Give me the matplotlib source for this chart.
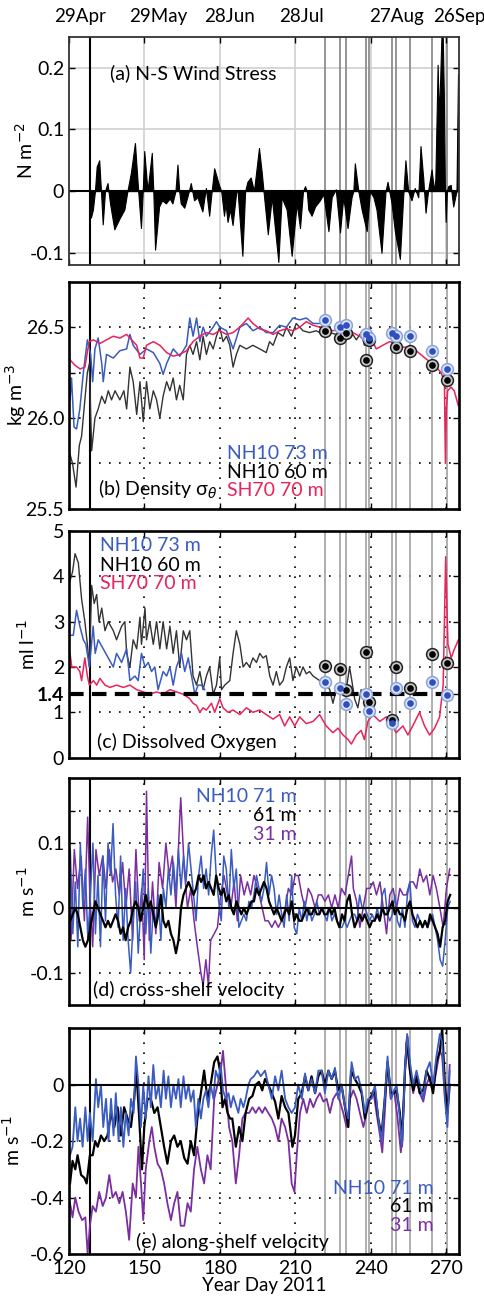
import numpy as np
import matplotlib
matplotlib.use('Agg')
import matplotlib.pyplot as plt
from matplotlib import transforms

plt.rcParams['font.family'] = ['Lato', 'DejaVu Sans']
plt.rcParams['mathtext.fontset'] = 'dejavusans'

BLUE = '#3a5bbf'
RED = '#e8245a'
PURPLE = '#7a2ea0'
GRAY = '#a8a8a8'
FS = 14

# ---- data ----
date_labels = ['29Apr', '29May', '28Jun', '28Jul', '27Aug', '26Sep']
date_pos = [124.4, 155.3, 183.9, 212.5, 250.2, 275.2]
xticks = [120, 150, 180, 210, 240, 270]
mooring_day = 128.3
cast_days = [221.6, 227.8, 230.2, 237.9, 239.2, 248.4, 249.8, 255.6, 264.2, 270.3]

wind = [(128.3, 0.0), (128.7, -0.043), (129.5, -0.03), (130.3, 0.0), (131.0, 0.04), (132.0, 0.05),
        (132.7, 0.0), (133.4, -0.054), (134.3, 0.0), (135.3, 0.013), (136.3, -0.02), (138.0, -0.062),
        (140.0, -0.045), (142.0, -0.03), (143.2, 0.0), (144.6, 0.03), (146.2, 0.078), (147.5, 0.0),
        (148.6, -0.06), (149.3, 0.0), (149.9, 0.065), (151.2, 0.0), (152.9, 0.062), (153.5, 0.0),
        (154.2, -0.095), (155.8, -0.025), (157.0, -0.015), (158.5, -0.02), (160.0, -0.012), (161.1, -0.02),
        (162.3, 0.0), (163.1, 0.043), (163.8, 0.0), (164.4, -0.02), (165.8, -0.027), (167.0, -0.01),
        (168.4, 0.013), (169.0, 0.0), (169.7, -0.015), (171.0, -0.01), (173.0, -0.033), (174.4, 0.005),
        (175.7, -0.04), (176.7, 0.0), (177.7, 0.037), (179.6, 0.01), (180.5, 0.0), (181.6, -0.04),
        (182.2, -0.02), (183.0, -0.05), (184.0, -0.03), (185.0, -0.055), (186.5, 0.0), (187.0, 0.0),
        (188.9, -0.105), (190.0, 0.0), (190.9, 0.015), (192.2, 0.022), (193.5, 0.0), (195.5, 0.07),
        (196.6, 0.03), (197.3, 0.0), (199.0, -0.07), (200.6, -0.01), (203.2, -0.115), (204.5, -0.01),
        (206.5, -0.03), (208.5, -0.105), (210.5, -0.02), (211.8, -0.06), (213.0, 0.0), (213.8, 0.008),
        (214.5, 0.0), (215.1, -0.03), (216.4, -0.04), (217.8, -0.025), (219.7, -0.015), (221.1, -0.005),
        (223.1, -0.065), (224.4, -0.01), (226.0, 0.003), (227.7, -0.067), (229.0, -0.01), (230.7, -0.06),
        (232.3, -0.01), (233.0, 0.0), (233.6, 0.045), (235.0, 0.0), (236.3, -0.03), (238.3, -0.065),
        (239.6, 0.0), (241.0, -0.01), (242.2, -0.03), (244.2, -0.1), (245.8, 0.0), (246.6, 0.015),
        (247.3, 0.0), (248.2, -0.02), (249.5, -0.065), (251.5, -0.11), (252.8, -0.01), (253.7, 0.05),
        (254.8, 0.0), (256.1, -0.015), (257.4, 0.005), (258.8, -0.01), (259.7, 0.073), (260.8, 0.02),
        (261.7, -0.035), (262.7, 0.0), (264.1, 0.035), (265.1, 0.0), (265.6, 0.02), (266.0, 0.1),
        (266.5, 0.205), (267.0, 0.12), (267.5, 0.18), (268.0, 0.25), (268.5, 0.26), (269.0, 0.15),
        (269.4, 0.0), (269.7, -0.05), (270.2, 0.0), (270.7, 0.008), (271.7, 0.01), (272.7, -0.025),
        (274.0, 0.0), (274.6, 0.19)]

rho_sh70 = [(120.4, 26.32), (122.4, 26.29), (124.4, 26.27), (126.3, 26.28), (128.0, 26.42), (129.7, 26.43),
            (132.3, 26.41), (134.9, 26.43), (137.6, 26.45), (140.2, 26.44), (142.9, 26.46), (144.9, 26.43),
            (146.9, 26.40), (148.2, 26.33), (149.5, 26.33), (150.8, 26.40), (153.5, 26.42), (156.1, 26.40),
            (158.8, 26.36), (161.4, 26.34), (164.0, 26.35), (166.7, 26.37), (169.3, 26.42), (172.0, 26.45),
            (174.6, 26.47), (177.3, 26.46), (179.9, 26.48), (182.6, 26.46), (185.2, 26.47), (187.9, 26.50),
            (191.2, 26.55), (193.1, 26.52), (195.8, 26.49), (198.4, 26.48), (201.1, 26.46), (203.7, 26.48),
            (206.4, 26.49), (209.0, 26.48), (211.7, 26.50), (214.3, 26.53), (217.0, 26.51), (219.6, 26.50),
            (222.2, 26.49), (224.9, 26.48), (227.5, 26.49), (230.2, 26.50), (232.8, 26.47), (235.5, 26.45),
            (238.1, 26.42), (240.8, 26.42), (242.1, 26.38), (244.7, 26.40), (247.4, 26.42), (250.0, 26.41),
            (252.7, 26.39), (255.3, 26.39), (258.0, 26.37), (260.6, 26.34), (263.3, 26.31), (265.9, 26.28),
            (267.9, 26.25), (269.2, 26.20), (269.6, 25.75), (270.0, 26.05), (270.5, 26.15), (271.8, 26.17),
            (273.1, 26.15), (274.7, 26.07)]

rho_nh73 = [(120.4, 26.10), (121.0, 26.22), (122.0, 25.95), (123.0, 25.94), (124.3, 26.05), (125.7, 26.25),
            (127.3, 26.43), (128.6, 26.35), (129.4, 26.20), (130.3, 26.38), (131.6, 26.44), (133.0, 26.30),
            (133.6, 26.20), (134.9, 26.35), (137.6, 26.33), (140.2, 26.37), (142.9, 26.38), (144.2, 26.46),
            (145.5, 26.40), (148.2, 26.35), (150.8, 26.38), (153.5, 26.36), (156.1, 26.30), (157.4, 26.24),
            (158.8, 26.30), (161.4, 26.38), (164.0, 26.34), (166.7, 26.40), (168.0, 26.55), (169.3, 26.45),
            (170.7, 26.55), (172.0, 26.42), (173.3, 26.50), (174.6, 26.45), (177.3, 26.50), (178.6, 26.53),
            (179.9, 26.50), (182.6, 26.48), (185.2, 26.38), (187.9, 26.50), (190.5, 26.52), (193.1, 26.48),
            (195.8, 26.50), (198.4, 26.47), (201.1, 26.47), (203.7, 26.51), (206.4, 26.50), (209.0, 26.55),
            (211.7, 26.54), (214.3, 26.55), (217.0, 26.52), (219.6, 26.52), (221.6, 26.53)]

rho_nh60 = [(120.4, 25.80), (121.4, 25.75), (122.8, 25.62), (124.1, 25.85), (125.0, 25.90), (126.3, 26.10),
            (127.3, 26.25), (128.1, 26.30), (129.0, 25.82), (130.3, 26.00), (131.6, 26.05), (133.0, 26.12),
            (134.3, 26.08), (135.6, 26.15), (136.9, 26.10), (138.3, 26.15), (140.2, 26.10), (141.8, 26.15),
            (142.9, 26.05), (144.2, 26.28), (145.5, 26.20), (146.9, 26.02), (148.2, 26.20), (149.5, 25.98),
            (150.8, 26.20), (152.1, 26.05), (153.5, 26.15), (154.8, 26.10), (156.1, 26.00), (157.4, 26.12),
            (158.8, 26.20), (160.1, 26.15), (161.4, 26.22), (162.7, 26.10), (164.0, 26.18), (165.4, 26.10),
            (166.7, 26.35), (168.0, 26.40), (169.3, 26.35), (170.7, 26.42), (172.0, 26.32), (173.3, 26.45),
            (174.6, 26.35), (175.9, 26.42), (177.3, 26.38), (178.6, 26.45), (179.9, 26.50), (181.2, 26.42),
            (182.6, 26.45), (183.9, 26.40), (185.2, 26.28), (186.5, 26.35), (187.9, 26.40), (190.5, 26.38),
            (193.1, 26.40), (195.8, 26.38), (198.4, 26.36), (199.7, 26.42), (201.1, 26.40), (203.0, 26.47),
            (205.1, 26.45), (206.4, 26.50), (208.4, 26.45), (210.3, 26.52), (213.0, 26.48), (215.6, 26.47),
            (218.3, 26.48), (220.9, 26.46), (223.5, 26.47), (226.2, 26.46), (228.9, 26.47), (231.5, 26.44),
            (232.8, 26.46), (234.2, 26.43), (236.1, 26.47), (237.4, 26.40), (239.4, 26.43)]

rho_cast_73 = [26.54, 26.50, 26.51, 26.46, 26.44, 26.47, 26.45, 26.45, 26.37, 26.27]
rho_cast_60 = [26.48, 26.44, 26.47, 26.32, 26.43, np.nan, 26.39, 26.37, 26.29, 26.21]

ox_nh60 = [(120.4, 3.9), (121.4, 4.1), (122.4, 4.5), (123.7, 4.3), (125.0, 3.5), (126.3, 3.0), (127.3, 2.5),
           (128.1, 2.0), (129.0, 3.8), (130.0, 3.4), (131.0, 3.6), (131.9, 3.0), (133.0, 3.3), (134.3, 2.8),
           (135.6, 3.0), (137.6, 2.8), (138.9, 2.6), (140.9, 2.9), (142.2, 3.0), (142.9, 2.3), (144.2, 2.0),
           (145.5, 2.6), (146.9, 2.4), (148.2, 3.1), (148.8, 2.5), (150.2, 3.3), (150.8, 2.6), (152.1, 3.0),
           (153.5, 2.5), (154.8, 3.0), (156.1, 2.4), (157.4, 3.0), (158.8, 2.4), (160.1, 2.9), (161.4, 2.3),
           (162.7, 2.8), (164.0, 2.0), (165.4, 2.8), (166.7, 2.6), (168.0, 2.8), (169.3, 1.8), (170.7, 1.6),
           (172.0, 1.9), (173.3, 1.5), (174.6, 1.8), (175.9, 2.0), (177.3, 1.4), (178.6, 1.6), (179.9, 2.2),
           (180.6, 1.5), (181.9, 1.6), (183.9, 1.7), (185.2, 2.3), (186.5, 2.8), (187.9, 2.5), (189.2, 2.0),
           (190.5, 2.1), (191.8, 2.0), (193.1, 2.2), (194.5, 2.1), (195.8, 2.3), (197.1, 2.2), (198.4, 2.25),
           (199.8, 1.8), (201.1, 1.6), (202.4, 1.9), (203.7, 1.6), (205.1, 1.7), (206.4, 2.0), (207.7, 2.2),
           (209.0, 1.7), (210.3, 2.0), (211.7, 1.8), (213.0, 2.0), (214.3, 1.85), (215.6, 1.9), (217.0, 1.8),
           (218.3, 1.75), (219.6, 1.7), (221.6, 1.7), (223.6, 1.5), (224.9, 1.2), (226.2, 1.5), (227.5, 1.6),
           (228.9, 1.45), (230.2, 1.5), (231.5, 2.0), (232.4, 1.7), (233.5, 1.3), (234.8, 1.1), (236.1, 1.5),
           (237.4, 1.35), (238.8, 1.4)]

ox_nh73 = [(120.4, 2.7), (121.7, 2.7), (123.0, 3.25), (124.3, 2.9), (125.7, 2.6), (126.7, 2.5), (128.1, 2.0),
           (129.6, 2.9), (130.4, 2.3), (131.6, 2.6), (133.6, 2.4), (135.6, 2.2), (137.6, 2.0), (138.9, 2.3),
           (140.9, 2.1), (142.9, 2.4), (144.2, 1.7), (146.2, 1.8), (147.5, 1.7), (148.8, 2.3), (150.2, 2.0),
           (151.5, 2.1), (152.8, 1.9), (154.1, 2.0), (155.4, 1.5), (157.4, 1.9), (158.8, 1.8), (160.1, 2.0),
           (161.4, 1.6), (162.7, 2.0), (164.7, 2.3), (166.0, 1.9), (167.4, 2.2), (168.7, 1.8), (170.0, 1.4),
           (171.3, 1.6), (172.6, 1.6), (173.9, 1.5)]

ox_sh70 = [(120.4, 2.3), (121.1, 2.0), (123.0, 2.0), (124.3, 1.9), (125.0, 1.7), (126.3, 2.2), (127.3, 1.8),
           (128.1, 1.6), (129.7, 1.7), (131.0, 1.6), (132.3, 1.75), (134.3, 1.6), (136.3, 1.55), (138.9, 1.6),
           (141.6, 1.55), (144.2, 1.6), (146.9, 1.5), (149.5, 1.45), (152.1, 1.4), (154.8, 1.45), (157.4, 1.4),
           (160.1, 1.5), (162.7, 1.45), (165.4, 1.4), (168.0, 1.3), (169.3, 1.2), (170.7, 1.15), (172.0, 1.0),
           (173.3, 1.1), (174.6, 1.05), (176.6, 1.2), (177.9, 1.0), (179.9, 1.3), (181.2, 1.1), (183.2, 1.0),
           (185.2, 1.05), (187.9, 0.95), (190.5, 1.1), (193.1, 1.0), (195.8, 1.05), (198.4, 0.95), (201.1, 0.85),
           (203.7, 0.95), (205.7, 0.7), (207.7, 0.9), (209.7, 0.7), (211.7, 0.9), (214.3, 0.75), (217.0, 0.8),
           (219.6, 0.95), (222.2, 0.7), (224.9, 0.55), (226.9, 0.65), (228.9, 0.5), (230.9, 0.4), (232.2, 0.3),
           (234.2, 0.5), (236.1, 0.6), (237.4, 0.4), (238.8, 0.8), (240.8, 0.95), (243.5, 0.8), (246.1, 0.9),
           (248.0, 0.75), (250.0, 0.55), (252.7, 0.7), (254.7, 0.5), (256.6, 0.7), (259.3, 1.0), (261.3, 0.7),
           (263.3, 0.5), (265.3, 0.65), (267.3, 0.9), (268.7, 1.6), (269.7, 4.4), (270.6, 2.5), (271.9, 2.2),
           (273.2, 2.4), (274.8, 2.6)]

ox_cast_73 = [1.66, 1.53, 1.18, 1.40, 1.04, 0.77, 1.54, 1.20, 1.66, 1.38]
ox_cast_60 = [2.02, 1.95, 1.49, 2.32, 1.22, 0.84, 1.99, 1.54, 2.29, 2.08]
ox_threshold = 1.4

# cross-shelf velocity, daily values from day 120.5
u_day = np.arange(120.5, 272, 1.0)
u_nh71 = [0.09, -0.04, 0.04, -0.06, 0.10, 0.00, 0.06, -0.05, 0.02, 0.10,
          -0.04, 0.05, -0.06, 0.08, -0.02, 0.10, 0.05, 0.13, 0.02, -0.03,
          0.08, -0.05, 0.03, -0.05, -0.10, -0.02, 0.04, -0.07, 0.00, 0.06,
          -0.04, 0.03, -0.07, 0.00, -0.03, 0.02, -0.05, 0.03, 0.00, 0.06,
          0.02, 0.07, 0.02, 0.09, 0.03, 0.08, 0.04, 0.10, 0.06, 0.02,
          -0.02, 0.05, 0.08, 0.03, 0.06, 0.02, 0.08, 0.12, 0.05, 0.01,
          -0.02, 0.08, 0.06, 0.00, 0.09, 0.03, 0.06, -0.03, -0.02, -0.01,
          -0.02, 0.01, 0.00, 0.02, 0.05, 0.03, 0.01,
          0.03, 0.07, 0.02, 0.05, 0.03, -0.01, 0.02, -0.01, -0.03, 0.02,
          -0.02, 0.05, -0.03, -0.04, 0.00, -0.02, 0.01, -0.02, 0.00, -0.02,
          -0.01, 0.01, -0.01, 0.00, -0.01, -0.02, 0.00, -0.02, -0.01, -0.02,
          -0.03, -0.03, -0.02, -0.03, -0.02, -0.01, -0.01, -0.02, 0.02, 0.00,
          0.00, -0.01, -0.02, -0.01, -0.02, 0.00, -0.02, 0.02, 0.03, -0.01,
          -0.02, -0.01, 0.02, -0.02, -0.03, 0.00, -0.03, 0.02, 0.04, -0.02,
          -0.03, -0.01, -0.02, -0.03, -0.02, -0.03, -0.02, -0.01, -0.03, -0.05,
          -0.08, -0.09, -0.05, 0.00, 0.01]
u_nh61 = [-0.02, -0.01, 0.00, -0.01, -0.03, -0.05, -0.06, -0.05, -0.03, -0.01,
          0.01, 0.00, -0.01, -0.02, -0.03, -0.02, -0.03, -0.02, -0.01, -0.02,
          -0.04, -0.03, -0.05, -0.03, -0.02, 0.00, 0.01, 0.00, -0.02, 0.00,
          0.02, 0.00, 0.01, -0.01, -0.03, -0.01, 0.02, -0.02, -0.03, -0.02,
          -0.04, -0.05, -0.07, -0.05, 0.00, 0.02, 0.03, 0.04, 0.03, 0.02,
          0.03, 0.05, 0.04, 0.05, 0.03, 0.04, 0.03, 0.02, 0.05, 0.03,
          0.02, 0.03, 0.01, 0.02, 0.00, -0.01, 0.01, 0.00, -0.01, 0.00,
          -0.01, 0.00, 0.01, 0.01, 0.03, 0.02, 0.03, 0.04, 0.03, 0.01,
          0.00, -0.01, 0.00, -0.01, -0.02, -0.01, 0.00, -0.01, 0.01, -0.02,
          -0.01, -0.02, -0.02, -0.01, 0.00, -0.01, -0.01, 0.00, -0.01, -0.01,
          0.00, -0.01, -0.01, 0.00, -0.01, 0.00, -0.02, -0.03, -0.01, -0.02,
          0.01, 0.02, -0.01, -0.03, -0.02, -0.01, -0.02, -0.01, -0.02, -0.03,
          -0.02, -0.02, -0.01, -0.02, 0.00, -0.01, -0.01, 0.00, 0.01, -0.01,
          0.00, -0.01, -0.01, -0.02, 0.00, 0.01, -0.01, -0.02, -0.03, -0.02,
          -0.03, -0.02, -0.03, -0.01, -0.02, -0.03, -0.04, -0.06, -0.03, -0.02,
          0.01, 0.02]
u_nh31 = [(120.4, 0.0), (120.8, -0.05), (122.1, 0.09), (123.4, 0.03), (124.8, 0.08), (126.1, -0.02),
          (127.4, 0.14), (128.3, 0.02), (129.4, -0.06), (130.7, 0.09), (132.0, 0.05), (133.4, 0.08),
          (134.7, 0.03), (136.0, 0.09), (137.3, 0.04), (138.6, 0.06), (140.0, 0.02), (141.3, 0.07),
          (142.6, 0.0), (143.9, 0.06), (145.3, -0.05), (146.6, 0.09), (147.9, -0.02), (148.9, 0.03),
          (149.9, -0.08), (150.8, 0.18), (151.9, -0.05), (153.2, 0.04), (154.5, -0.04), (155.8, 0.07),
          (157.2, 0.03), (158.5, 0.1), (159.8, 0.05), (161.1, 0.08), (162.5, 0.0), (163.8, 0.12),
          (164.4, 0.17), (165.8, 0.06), (167.1, 0.0), (168.4, 0.03), (169.7, -0.02), (171.0, -0.06),
          (172.4, -0.1), (173.3, -0.12), (174.4, -0.08), (175.4, -0.12), (176.3, -0.05), (177.7, -0.04),
          (179.0, -0.03), (180.3, 0.02), (181.6, 0.05), (183.0, 0.02), (184.3, 0.0), (185.6, 0.04),
          (186.9, -0.02), (188.2, 0.05), (189.6, 0.02), (190.9, 0.04), (192.2, 0.02), (193.5, 0.05),
          (194.9, 0.03), (196.2, 0.01), (197.9, -0.02), (199.2, -0.02), (200.6, -0.03), (201.9, -0.02),
          (203.2, -0.03), (204.5, -0.02), (205.9, 0.0), (207.2, 0.03), (208.5, 0.02), (209.8, 0.05),
          (211.1, 0.05), (212.5, 0.02), (213.8, 0.0), (215.1, 0.03), (216.4, 0.02), (217.8, 0.0),
          (219.1, 0.02), (220.4, 0.02), (221.7, 0.01), (223.1, 0.02), (224.4, 0.0), (225.7, 0.02),
          (227.0, 0.0), (228.3, 0.03), (229.7, 0.02), (231.0, 0.05), (232.3, 0.08), (233.0, 0.03),
          (234.3, 0.01), (235.6, -0.03), (236.9, 0.0), (238.3, 0.03), (239.6, 0.03), (240.9, 0.04),
          (242.2, 0.02), (243.6, 0.04), (244.9, 0.0), (246.2, -0.04), (247.5, 0.02), (248.8, 0.03),
          (250.2, 0.0), (251.5, 0.03), (252.8, 0.02), (254.1, 0.02), (255.5, 0.04), (256.8, 0.04),
          (258.1, 0.03), (259.4, 0.06), (260.8, 0.04), (262.1, 0.05), (263.4, 0.02), (264.7, 0.05),
          (266.0, 0.03), (267.4, 0.0), (268.7, -0.03), (270.0, 0.03), (271.3, 0.06)]

v_nh71 = [(120.4, -0.25), (121.4, -0.22), (122.5, -0.08), (123.4, -0.2), (124.4, -0.12), (125.4, -0.22),
          (126.5, -0.08), (127.4, -0.2), (128.3, -0.1), (129.4, -0.2), (130.7, 0.02), (131.6, -0.08),
          (132.7, 0.0), (133.6, -0.15), (134.7, -0.05), (135.7, -0.2), (136.7, -0.05), (137.7, -0.18),
          (138.6, -0.03), (139.7, -0.2), (140.6, -0.08), (141.6, -0.22), (142.6, -0.1), (143.7, -0.18),
          (144.6, -0.05), (145.7, -0.1), (146.6, 0.1), (147.6, 0.0), (148.6, -0.15), (149.5, 0.0),
          (150.5, -0.12), (151.6, 0.03), (152.5, -0.08), (153.5, 0.07), (154.5, -0.05), (155.6, 0.0),
          (156.5, -0.08), (157.6, 0.05), (158.5, -0.05), (159.5, 0.03), (160.5, -0.08), (161.5, 0.0),
          (162.5, -0.05), (163.5, 0.02), (164.4, -0.08), (165.5, 0.03), (166.4, -0.05), (167.5, 0.0),
          (168.4, -0.06), (169.5, -0.02), (170.4, -0.15), (171.4, -0.05), (172.4, -0.12), (173.4, -0.05),
          (174.4, -0.02), (175.4, -0.08), (176.3, 0.0), (177.4, -0.05), (178.3, 0.05), (179.4, 0.02),
          (180.3, 0.07), (181.2, -0.02), (182.3, -0.05), (183.4, -0.03), (184.3, -0.08), (185.3, -0.04),
          (186.3, -0.07), (187.3, -0.1), (188.2, -0.05), (189.3, -0.08), (190.2, -0.05), (191.3, 0.0),
          (192.2, 0.02), (193.5, 0.03), (194.9, 0.05), (196.2, 0.03), (197.9, 0.05), (199.2, 0.0),
          (200.6, -0.05), (201.9, 0.03), (203.2, -0.02), (204.5, 0.05), (205.9, -0.05), (207.2, -0.08),
          (208.5, -0.1), (209.8, -0.08), (211.1, 0.0), (212.5, -0.05), (213.8, 0.04), (215.1, -0.02),
          (216.4, 0.02), (217.8, -0.03), (219.1, 0.05), (220.4, 0.05), (221.7, -0.03), (223.1, 0.05),
          (224.4, 0.02), (225.7, 0.06), (227.0, -0.05), (228.3, 0.0), (229.7, -0.08), (231.0, -0.12),
          (232.3, 0.08), (233.6, 0.02), (234.9, 0.03), (236.3, -0.02), (237.6, -0.1), (238.9, -0.05),
          (240.3, -0.05), (241.6, 0.0), (242.9, -0.12), (244.2, -0.2), (245.5, -0.05), (246.6, 0.1),
          (247.9, -0.05), (249.2, -0.02), (250.2, 0.0), (251.5, -0.12), (252.4, -0.22), (253.5, 0.05),
          (254.4, 0.18), (255.5, 0.08), (256.8, 0.0), (258.1, 0.05), (259.4, 0.0), (260.8, -0.05),
          (262.1, 0.05), (263.4, 0.08), (264.7, 0.0), (266.0, 0.1), (267.4, 0.18), (268.3, 0.15),
          (269.4, -0.05), (270.4, -0.15), (271.3, 0.05)]

v_nh61 = [(120.4, -0.35), (121.4, -0.27), (122.5, -0.30), (123.4, -0.25), (124.8, -0.32), (126.1, -0.33),
          (127.0, -0.35), (128.3, -0.25), (129.4, -0.25), (130.4, -0.2), (131.4, -0.22), (132.7, -0.18),
          (134.0, -0.2), (135.3, -0.18), (136.7, -0.1), (138.0, -0.15), (139.3, -0.08), (140.6, -0.18),
          (141.9, -0.08), (143.3, -0.12), (144.6, -0.15), (145.9, -0.05), (146.8, 0.05), (147.9, -0.12),
          (149.0, -0.3), (149.9, -0.15), (151.2, -0.05), (152.5, -0.05), (153.9, -0.1), (155.2, -0.08),
          (156.5, -0.15), (157.8, -0.22), (159.1, -0.28), (160.5, -0.2), (161.8, -0.18), (163.1, -0.22),
          (164.4, -0.2), (165.8, -0.26), (167.1, -0.28), (168.4, -0.2), (169.7, -0.25), (171.0, -0.12),
          (172.4, -0.03), (173.7, 0.05), (175.0, -0.05), (176.3, 0.0), (177.7, 0.08), (179.0, 0.1),
          (180.0, 0.05), (181.0, -0.08), (182.0, -0.05), (183.0, -0.1), (184.0, -0.12), (184.9, -0.12),
          (186.3, -0.22), (187.6, -0.15), (188.9, -0.2), (190.2, -0.1), (191.6, -0.05), (192.9, -0.04),
          (194.2, 0.0), (195.5, 0.01), (196.8, -0.02), (197.9, 0.02), (199.2, 0.0), (200.6, -0.03),
          (201.9, -0.06), (203.2, -0.12), (204.5, -0.04), (205.9, -0.08), (207.2, -0.1), (208.8, -0.22),
          (209.8, -0.18), (211.1, -0.05), (212.5, -0.03), (213.8, 0.03), (215.1, -0.02), (216.4, 0.03),
          (217.8, -0.03), (219.1, 0.03), (220.4, 0.05), (221.7, 0.0), (223.1, 0.05), (224.4, 0.02),
          (225.7, 0.05), (227.0, -0.02), (228.3, 0.0), (229.7, -0.08), (231.0, -0.15), (232.1, 0.05),
          (233.6, 0.02), (234.9, 0.0), (236.3, -0.03), (237.6, -0.12), (238.9, -0.06), (240.3, -0.04),
          (241.6, -0.02), (242.9, -0.12), (244.2, -0.18), (245.5, -0.05), (246.6, 0.08), (247.9, -0.03),
          (249.2, -0.03), (250.2, -0.02), (251.5, -0.1), (252.4, -0.2), (253.5, 0.05), (254.4, 0.17),
          (255.5, 0.05), (256.8, -0.02), (258.1, 0.03), (259.4, -0.03), (260.8, -0.02), (262.1, 0.05),
          (263.4, 0.02), (264.7, -0.03), (266.0, 0.08), (267.4, 0.12), (268.3, 0.2), (269.4, 0.0),
          (270.4, -0.1), (271.3, 0.0)]

v_nh31 = [(120.4, -0.42), (121.4, -0.47), (122.5, -0.4), (123.8, -0.45), (125.2, -0.48), (126.5, -0.47),
          (127.4, -0.6), (128.3, -0.5), (129.4, -0.43), (130.7, -0.45), (132.0, -0.38), (133.4, -0.43),
          (134.7, -0.4), (136.0, -0.32), (137.3, -0.4), (138.6, -0.38), (140.0, -0.42), (141.3, -0.38),
          (142.6, -0.45), (143.9, -0.55), (145.3, -0.35), (146.6, -0.4), (147.6, -0.22), (148.6, -0.35),
          (149.5, -0.48), (150.5, -0.3), (151.9, -0.2), (152.9, -0.15), (153.9, -0.22), (155.2, -0.28),
          (156.5, -0.3), (157.8, -0.35), (159.1, -0.42), (160.5, -0.48), (161.8, -0.42), (163.1, -0.38),
          (164.4, -0.5), (165.8, -0.5), (167.1, -0.42), (168.4, -0.45), (169.7, -0.3), (171.0, -0.22),
          (172.4, -0.3), (173.7, -0.35), (175.0, -0.25), (176.3, -0.3), (177.7, -0.05), (179.0, 0.0),
          (180.3, 0.05), (181.2, 0.12), (182.3, 0.0), (183.6, -0.15), (184.9, -0.2), (186.3, -0.35),
          (187.6, -0.25), (188.9, -0.12), (190.2, -0.1), (191.6, -0.1), (192.9, -0.08), (194.2, -0.1),
          (195.5, -0.08), (196.8, -0.1), (197.9, -0.08), (199.2, -0.1), (200.6, -0.12), (201.9, -0.15),
          (203.2, -0.2), (204.5, -0.12), (205.9, -0.15), (207.2, -0.2), (208.5, -0.35), (209.6, -0.38),
          (210.5, -0.25), (211.8, -0.1), (213.1, -0.05), (214.5, -0.1), (215.8, -0.05), (217.1, -0.08),
          (218.4, -0.05), (219.7, -0.03), (221.1, -0.06), (222.4, -0.05), (223.7, -0.1), (225.0, -0.05),
          (226.4, -0.03), (227.7, -0.06), (229.0, -0.1), (230.3, -0.15), (231.7, -0.05), (233.0, -0.02),
          (234.3, -0.05), (235.6, -0.1), (237.0, -0.15), (238.3, -0.1), (239.6, -0.05), (240.9, -0.02),
          (242.2, -0.1), (243.6, -0.18), (244.5, -0.24), (245.5, -0.1), (246.6, 0.08), (247.9, -0.05),
          (249.2, -0.02), (250.6, -0.12), (251.9, -0.24), (252.8, -0.1), (254.1, 0.15), (255.5, 0.05),
          (256.8, -0.03), (258.1, 0.02), (259.4, -0.03), (260.8, -0.06), (262.1, 0.0), (263.4, 0.03),
          (264.7, -0.02), (266.0, 0.05), (267.4, 0.12), (268.3, 0.1), (269.4, -0.05), (270.4, -0.1),
          (271.3, 0.07)]


def xy(points):
    a = np.array(points)
    return a[:, 0], a[:, 1]


def frame(ax, ylim, yticks, ylabels, grid_y, solid=False):
    ax.set_xlim(120, 275)
    ax.set_ylim(*ylim)
    ax.set_xticks(xticks)
    ax.set_yticks(yticks)
    ax.set_yticklabels(ylabels)
    if solid:
        gkw = dict(color='#d0d0d0', lw=1.2, zorder=0)
    else:
        gkw = dict(color='k', lw=1.2, ls=(0, (1, 5)), zorder=0.5)
    for g in xticks[1:]:
        ax.axvline(g, **gkw)
    for g in grid_y:
        ax.axhline(g, **gkw)
    for d in cast_days:
        ax.axvline(d, color='#8c8c8c' if solid else GRAY, lw=1.3, zorder=1)
    ax.axvline(mooring_day, color='k', lw=1.5, zorder=1)
    ax.tick_params(direction='in', top=True, right=True, labelsize=FS, length=4, width=1)
    for s in ax.spines.values():
        s.set_linewidth(1.3 if solid else 1.9)
        s.set_color('#333333' if solid else 'k')
        s.set_zorder(5)


def casts(ax, vals, dot, ring, edge):
    ax.plot(cast_days, vals, 'o', ms=8.5, mfc=ring, mec=edge, mew=1.1, zorder=6)
    ax.plot(cast_days, vals, 'o', ms=3.8, color=dot, zorder=7)


fig = plt.figure(figsize=(4.85, 12.98), dpi=100)
L, W = 0.1423, 0.8041
ax_a = fig.add_axes([L, 0.7958, W, 0.1757])
ax_b = fig.add_axes([L, 0.6079, W, 0.1751])
ax_c = fig.add_axes([L, 0.4163, W, 0.1746])
ax_d = fig.add_axes([L, 0.2257, W, 0.1747])
ax_e = fig.add_axes([L, 0.0339, W, 0.1739])

# (a) wind stress
frame(ax_a, (-0.12, 0.25), [-0.1, 0, 0.1, 0.2], ['-0.1', '0', '0.1', '0.2'], [-0.1, 0.1, 0.2], solid=True)
wd, wv = xy(wind)
ax_a.fill_between(wd, 0, wv, color='k', lw=0.8, zorder=3)
ax_a.axhline(0, color='k', lw=1.5, zorder=3)
ax_a.text(0.105, 0.84, '(a) N-S Wind Stress', transform=ax_a.transAxes, fontsize=FS, va='center')
ax_a.set_ylabel('N m$^{-2}$', fontsize=FS)
ax_a.yaxis.set_label_coords(-0.085, 0.5)
top = transforms.blended_transform_factory(ax_a.transData, ax_a.transAxes)
for lab, p in zip(date_labels, date_pos):
    ax_a.text(p, 1.088, lab, transform=top, ha='center', va='center', fontsize=13.5, clip_on=False)

# (b) density
frame(ax_b, (25.5, 26.75), [25.5, 25.75, 26.0, 26.25, 26.5], ['25.5', '', '26.0', '', '26.5'],
      [25.75, 26.0, 26.25, 26.5])
for pts, c, lw in [(rho_nh60, '#333333', 1.0), (rho_nh73, BLUE, 1.1), (rho_sh70, RED, 1.1)]:
    x, y = xy(pts)
    ax_b.plot(x, y, color=c, lw=lw, zorder=3)
casts(ax_b, rho_cast_60, 'k', '#c8c8c8', '#222222')
casts(ax_b, rho_cast_73, '#2f4fc0', '#dfe6f7', '#8aa2de')
ax_b.text(0.075, 0.085, r'(b) Density σ$_\theta$', transform=ax_b.transAxes, fontsize=FS, va='center')
for t, c, yy in [('NH10 73 m', BLUE, 0.242), ('NH10 60 m', 'k', 0.161), ('SH70 70 m', RED, 0.08)]:
    ax_b.text(0.405, yy, t, color=c, transform=ax_b.transAxes, fontsize=FS, va='center')
ax_b.set_ylabel('kg m$^{-3}$', fontsize=FS)
ax_b.yaxis.set_label_coords(-0.105, 0.5)

# (c) oxygen
frame(ax_c, (0, 5), [0, 1, ox_threshold, 2, 3, 4, 5], ['0', '1', '1.4', '2', '3', '4', '5'], [1, 2, 3, 4])
ax_c.get_yticklabels()[2].set_fontweight('bold')
for pts, c, lw in [(ox_nh60, '#333333', 1.0), (ox_nh73, BLUE, 1.1), (ox_sh70, RED, 1.1)]:
    x, y = xy(pts)
    ax_c.plot(x, y, color=c, lw=lw, zorder=3)
ax_c.axhline(ox_threshold, color='k', lw=3, ls=(0, (3.5, 2)), zorder=4)
casts(ax_c, ox_cast_60, 'k', '#c8c8c8', '#222222')
casts(ax_c, ox_cast_73, '#2f4fc0', '#dfe6f7', '#8aa2de')
ax_c.text(0.071, 0.07, '(c) Dissolved Oxygen', transform=ax_c.transAxes, fontsize=FS, va='center')
for t, c, yy in [('NH10 73 m', BLUE, 0.938), ('NH10 60 m', 'k', 0.85), ('SH70 70 m', RED, 0.769)]:
    ax_c.text(0.08, yy, t, color=c, transform=ax_c.transAxes, fontsize=FS, va='center')
ax_c.set_ylabel('ml l$^{-1}$', fontsize=FS)
ax_c.yaxis.set_label_coords(-0.08, 0.5)

# (d) cross-shelf velocity
frame(ax_d, (-0.15, 0.2), [-0.1, -0.05, 0, 0.05, 0.1, 0.15], ['-0.1', '', '0', '', '0.1', ''],
      [-0.1, -0.05, 0.05, 0.1, 0.15])
x, y = xy(u_nh31)
ax_d.plot(x, y, color=PURPLE, lw=1.1, zorder=3)
ax_d.plot(u_day, u_nh71, color=BLUE, lw=1.1, zorder=3)
ax_d.plot(u_day, u_nh61, color='k', lw=1.6, zorder=3)
ax_d.axhline(0, color='k', lw=1.5, zorder=4)
ax_d.text(0.062, 0.066, '(d) cross-shelf velocity', transform=ax_d.transAxes, fontsize=FS, va='center')
for t, c, yy in [('NH10 71 m', BLUE, 0.919), ('61 m', 'k', 0.838), ('31 m', PURPLE, 0.75)]:
    ax_d.text(0.584, yy, t, color=c, transform=ax_d.transAxes, fontsize=FS, va='center', ha='right')
ax_d.set_ylabel('m s$^{-1}$', fontsize=FS)
ax_d.yaxis.set_label_coords(-0.08, 0.5)

# (e) along-shelf velocity
frame(ax_e, (-0.6, 0.2), [-0.6, -0.4, -0.2, 0], ['-0.6', '-0.4', '-0.2', '0'], [-0.4, -0.2])
for pts, c, lw in [(v_nh31, PURPLE, 1.3), (v_nh61, 'k', 1.6), (v_nh71, BLUE, 1.3)]:
    x, y = xy(pts)
    ax_e.plot(x, y, color=c, lw=lw, zorder=3)
ax_e.axhline(0, color='k', lw=1.5, zorder=4)
ax_e.text(0.173, 0.054, '(e) along-shelf velocity', transform=ax_e.transAxes, fontsize=FS, va='center')
for t, c, yy in [('NH10 71 m', BLUE, 0.291), ('61 m', 'k', 0.21), ('31 m', PURPLE, 0.128)]:
    ax_e.text(0.934, yy, t, color=c, transform=ax_e.transAxes, fontsize=FS, va='center', ha='right')
ax_e.set_ylabel('m s$^{-1}$', fontsize=FS)
ax_e.yaxis.set_label_coords(-0.118, 0.5)
ax_e.tick_params(axis='x', pad=4.5)
ax_e.set_xlabel('Year Day 2011', fontsize=13.5, labelpad=0)

for ax in [ax_a, ax_b, ax_c, ax_d]:
    ax.set_xticklabels([])

fig.savefig('out.png', dpi=100)
